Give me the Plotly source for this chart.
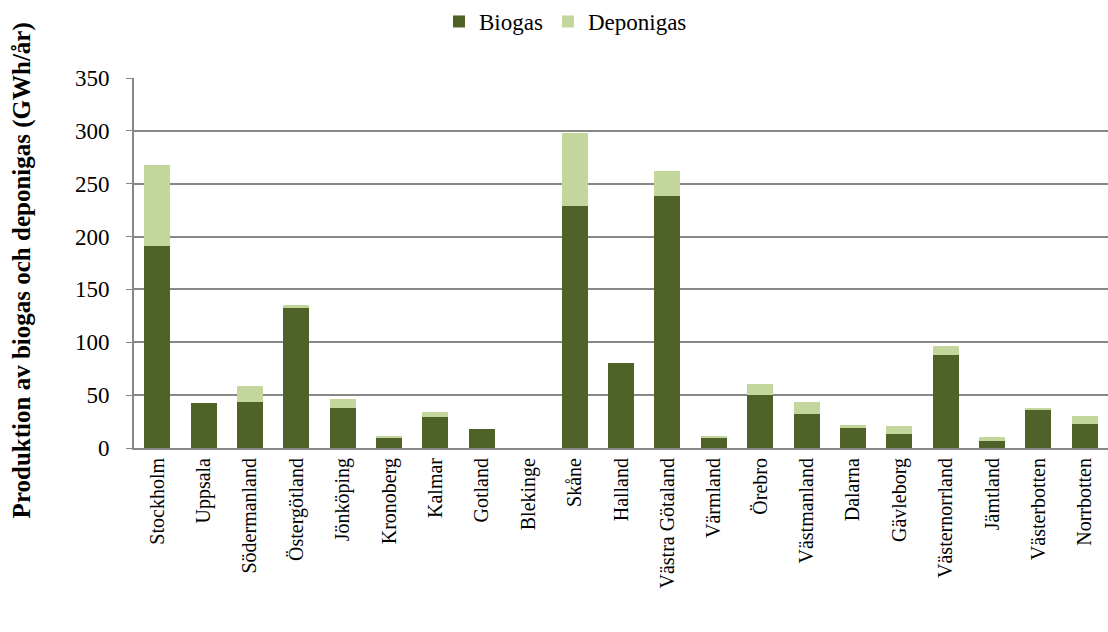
import plotly.graph_objects as go

regions = [
    "Stockholm", "Uppsala", "Södermanland", "Östergötland", "Jönköping",
    "Kronoberg", "Kalmar", "Gotland", "Blekinge", "Skåne", "Halland",
    "Västra Götaland", "Värmland", "Örebro", "Västmanland", "Dalarna",
    "Gävleborg", "Västernorrland", "Jämtland", "Västerbotten", "Norrbotten",
]
biogas = [191.5, 43, 43.4, 133.3, 37.4, 9.7, 29.2, 17.6, 0, 228.6, 80.2,
          238.4, 9.1, 50.6, 32.1, 18.6, 13.2, 88.1, 6.3, 36.5, 22.6]
deponigas = [76, 0, 15.7, 1.6, 8.8, 1.9, 4.4, 0, 0, 69.8, 0,
             23.2, 2.2, 9.8, 11.3, 2.8, 7.2, 8.4, 4.1, 1.2, 7.6]

font = "Liberation Serif, Times New Roman, serif"
grid = "#878787"

fig = go.Figure()
fig.add_trace(go.Bar(name="Biogas", x=regions, y=biogas,
                     marker=dict(color="#4f6228", line=dict(width=0))))
fig.add_trace(go.Bar(name="Deponigas", x=regions, y=deponigas,
                     marker=dict(color="#c3d69b", line=dict(width=0))))

fig.update_layout(
    barmode="stack",
    bargap=0.44,
    width=1108, height=632,
    margin=dict(l=134, r=0, t=77, b=184),
    paper_bgcolor="white", plot_bgcolor="white",
    font=dict(family=font, size=20, color="black"),
    legend=dict(orientation="h", x=0.443, xanchor="center", y=1.154, yanchor="middle",
                font=dict(size=23), traceorder="normal"),
    showlegend=True,
)
fig.update_xaxes(
    tickangle=-90, showgrid=False, showline=True, linecolor=grid, linewidth=2,
    ticks="", tickfont=dict(size=20), automargin=False,
)
fig.update_yaxes(
    range=[0, 350], dtick=50, showgrid=True, gridcolor=grid, gridwidth=1.5,
    showline=True, linecolor=grid, linewidth=2, ticks="outside", ticklen=6,
    tickcolor=grid, ticklabelstandoff=12, zeroline=False, automargin=False,
    tickfont=dict(size=23),
)
fig.add_annotation(
    text="<b>Produktion av biogas och deponigas (GWh/år)</b>",
    xref="paper", yref="paper", x=-0.115, y=0.48, textangle=-90,
    showarrow=False, font=dict(size=25), xanchor="center", yanchor="middle",
)

# drop the page's default body margin so the figure sits at the window corner
fig.write_html("out.html", config={"displayModeBar": False},
               post_script="document.body.style.margin='0px';")
